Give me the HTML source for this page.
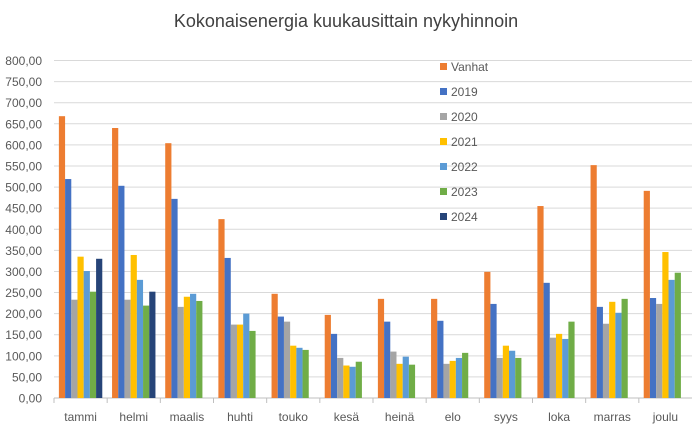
<!DOCTYPE html>
<html><head><meta charset="utf-8"><style>
body{margin:0;background:#fff;font-family:"Liberation Sans",sans-serif}
svg text{font-family:"Liberation Sans",sans-serif}
</style></head><body>
<svg width="693" height="427">
<text x="346" y="27" text-anchor="middle" font-size="18" fill="#404040">Kokonaisenergia kuukausittain nykyhinnoin</text>
<g id="grid"></g><g id="bars"></g><g id="leg"></g>
</svg>
<script>
const months=["tammi","helmi","maalis","huhti","touko","kesä","heinä","elo","syys","loka","marras","joulu"];
const seriesNames=["Vanhat","2019","2020","2021","2022","2023","2024"];
const colors=["#ED7D31","#4472C4","#A5A5A5","#FFC000","#5B9BD5","#70AD47","#264478"];
const vanhat=[668,640,604,424,247,197,235,235,299,455,552,491];
const y2019=[519,503,472,332,193,152,181,183,223,273,216,237];
const y2020=[233,233,216,174,181,95,110,81,95,143,176,223];
const y2021=[335,339,240,174,124,77,81,88,124,152,228,346];
const y2022=[301,280,247,200,119,74,98,95,112,140,202,280];
const y2023=[252,219,230,159,114,86,79,107,95,181,235,297];
const y2024=[330,252,null,null,null,null,null,null,null,null,null,null];
const yTicks=[0,50,100,150,200,250,300,350,400,450,500,550,600,650,700,750,800];
const series=[vanhat,y2019,y2020,y2021,y2022,y2023,y2024];
const NS="http://www.w3.org/2000/svg";
const L=54,R=692,T=60.5,B=398;
const cw=(R-L)/months.length, bw=6.2, pad=(cw-bw*7)/2;
const y=v=>B-(v/800)*(B-T);
function mk(t,a,p){const e=document.createElementNS(NS,t);for(const k in a)e.setAttribute(k,a[k]);p.appendChild(e);return e;}
const g=document.getElementById("grid");
yTicks.forEach(v=>{
 const ln=mk("line",{x1:L,x2:R,y1:y(v),y2:y(v),stroke:v?"#d9d9d9":"#bfbfbf","stroke-width":1},g);
 
 
 const t=mk("text",{x:42,y:y(v)+4.5,"text-anchor":"end","font-size":12,fill:"#595959"},g);
 t.textContent=v.toFixed(2).replace(".",",");
 
 
});
months.forEach((m,i)=>{
 const tk=mk("line",{x1:L+i*cw,x2:L+i*cw,y1:B,y2:B+5,stroke:"#bfbfbf"},g);
 
 
 const t=mk("text",{x:L+(i+0.5)*cw,y:421,"text-anchor":"middle","font-size":12,fill:"#595959"},g);
 t.textContent=m;
 
 
});
const bg=document.getElementById("bars");
series.forEach((s,si)=>s.forEach((v,i)=>{
 if(v==null)return;
 const r=mk("rect",{x:L+i*cw+pad+si*bw,y:y(v),width:bw,height:B-y(v),fill:colors[si]},bg);
 
 
}));
const lg=document.getElementById("leg");
seriesNames.forEach((n,i)=>{
 const r=mk("rect",{x:440,y:63+i*25,width:7,height:7,fill:colors[i]},lg);
 
 
 const t=mk("text",{x:451,y:71+i*25,"font-size":12,fill:"#595959"},lg);
 t.textContent=n;
 
 
});
</script>
</body></html>
